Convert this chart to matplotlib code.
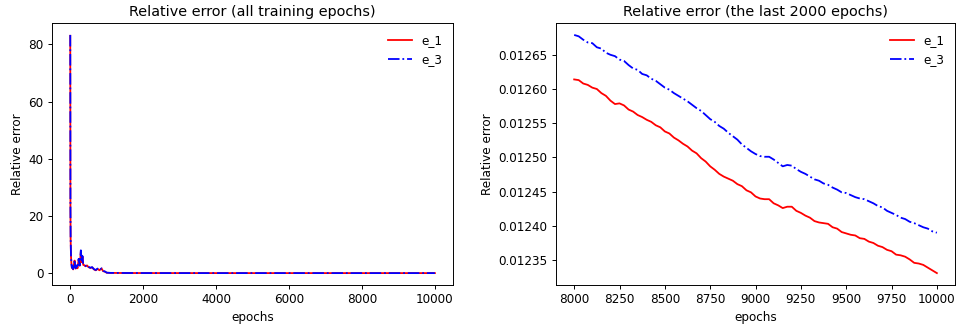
import matplotlib
matplotlib.use("Agg")
import matplotlib.pyplot as plt
import numpy as np

# full training run: epoch samples and relative errors
epochs_all = [0, 2, 5, 10, 20, 30, 45, 60, 80, 100, 120, 135, 150, 170, 200, 230,
              260, 290, 316, 335, 355, 380, 420, 460, 500, 550, 600, 650, 700,
              750, 800, 860, 900, 950, 1000, 1100, 1500, 2000, 3000, 4000, 5000,
              6000, 7000, 8000, 9000, 10000]
e1_all = [83.0, 60.0, 22.0, 12.0, 6.0, 3.5, 1.8, 2.2, 1.3, 3.0, 4.4, 2.0, 1.6,
          2.6, 1.7, 4.8, 2.6, 7.6, 3.8, 5.8, 2.9, 2.8, 2.4, 2.7, 2.1, 1.8, 2.0,
          1.3, 1.0, 1.5, 1.0, 1.6, 0.7, 0.5, 0.15, 0.08, 0.04, 0.03, 0.02,
          0.015, 0.014, 0.013, 0.0128, 0.0126, 0.0124, 0.0123]
e3_all = [83.3, 61.0, 23.0, 12.5, 6.2, 3.6, 1.9, 2.3, 1.4, 3.2, 4.6, 2.1, 1.7,
          2.7, 1.8, 5.0, 2.7, 8.0, 3.9, 6.0, 3.0, 2.9, 2.5, 2.8, 2.2, 1.9, 2.1,
          1.4, 1.1, 1.6, 1.1, 1.7, 0.8, 0.6, 0.16, 0.09, 0.05, 0.035, 0.022,
          0.016, 0.015, 0.014, 0.0129, 0.0127, 0.0125, 0.0124]

# last 2000 epochs, one sample every 25 epochs
epochs_last = np.arange(8000, 10001, 25)
e1_last = [
    0.012614, 0.012613, 0.012608, 0.012606, 0.012602, 0.012600, 0.012594,
    0.012590, 0.012583, 0.012578, 0.012579, 0.012576, 0.012570, 0.012567,
    0.012562, 0.012559, 0.012555, 0.012552, 0.012547, 0.012544, 0.012538,
    0.012535, 0.012529, 0.012525, 0.012520, 0.012516, 0.012510, 0.012506,
    0.012499, 0.012494, 0.012487, 0.012482, 0.012476, 0.012472, 0.012469,
    0.012466, 0.012461, 0.012458, 0.012452, 0.012449, 0.012443, 0.012440,
    0.012439, 0.012439, 0.012433, 0.012430, 0.012426, 0.012428, 0.012428,
    0.012422, 0.012419, 0.012415, 0.012412, 0.012407, 0.012405, 0.012404,
    0.012403, 0.012398, 0.012396, 0.012391, 0.012389, 0.012387, 0.012386,
    0.012382, 0.012381, 0.012377, 0.012375, 0.012371, 0.012369, 0.012365,
    0.012363, 0.012358, 0.012357, 0.012355, 0.012351, 0.012346, 0.012345,
    0.012343, 0.012339, 0.012335, 0.012331]
e3_last = [
    0.012679, 0.012677, 0.012672, 0.012668, 0.012667, 0.012661, 0.012659,
    0.012653, 0.012650, 0.012648, 0.012643, 0.012641, 0.012635, 0.012630,
    0.012628, 0.012622, 0.012620, 0.012615, 0.012612, 0.012607, 0.012602,
    0.012599, 0.012594, 0.012590, 0.012586, 0.012582, 0.012577, 0.012572,
    0.012568, 0.012562, 0.012556, 0.012552, 0.012546, 0.012542, 0.012536,
    0.012531, 0.012526, 0.012519, 0.012514, 0.012509, 0.012505, 0.012502,
    0.012501, 0.012501, 0.012497, 0.012492, 0.012487, 0.012489, 0.012488,
    0.012483, 0.012479, 0.012476, 0.012472, 0.012468, 0.012466, 0.012462,
    0.012460, 0.012456, 0.012453, 0.012449, 0.012448, 0.012445, 0.012442,
    0.012440, 0.012439, 0.012436, 0.012433, 0.012429, 0.012427, 0.012422,
    0.012419, 0.012416, 0.012412, 0.012410, 0.012406, 0.012404, 0.012401,
    0.012398, 0.012396, 0.012392, 0.012390]

DPI = 86.4
fig = plt.figure(figsize=(960 / DPI, 329 / DPI), dpi=DPI)
ax1 = fig.add_axes([0.0542, 0.1337, 0.4178, 0.7963])
ax2 = fig.add_axes([0.5792, 0.1337, 0.4156, 0.7963])

ax1.plot(epochs_all, e1_all, 'r-', label='e_1')
ax1.plot(epochs_all, e3_all, 'b-.', label='e_3')
ax1.set_title('Relative error (all training epochs)')
ax1.set_xlabel('epochs')
ax1.set_ylabel('Relative error')
ax1.set_xticks(np.arange(0, 10001, 2000))
ax1.legend(loc='upper right', frameon=False)

ax2.plot(epochs_last, e1_last, 'r-', label='e_1')
ax2.plot(epochs_last, e3_last, 'b-.', label='e_3')
ax2.set_title('Relative error (the last 2000 epochs)')
ax2.set_xlabel('epochs')
ax2.set_ylabel('Relative error')
ax2.set_xticks(np.arange(8000, 10001, 250))
ax2.legend(loc='upper right', frameon=False)

fig.savefig('out.png', dpi=DPI)
